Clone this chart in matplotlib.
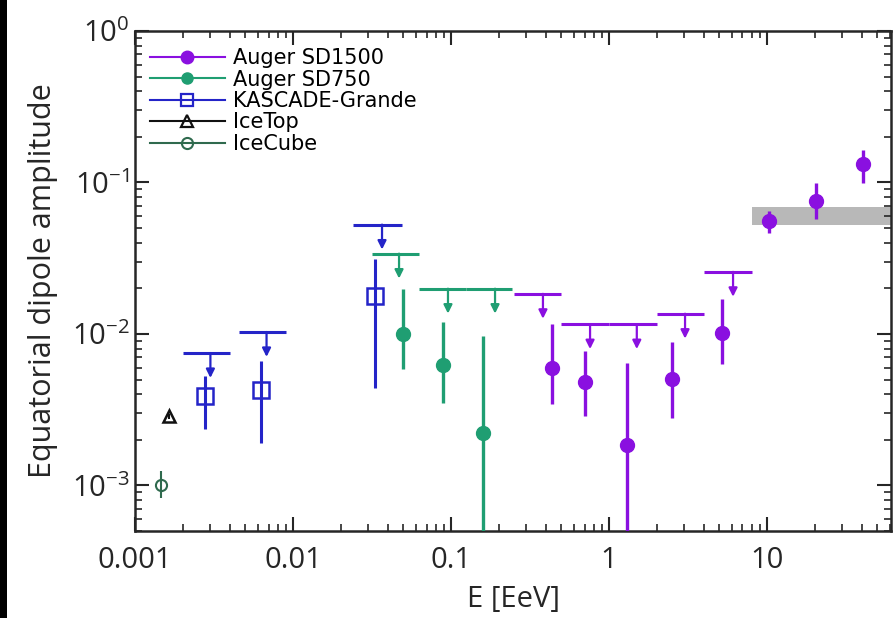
import matplotlib
matplotlib.use('Agg')
import matplotlib.pyplot as plt
from matplotlib.patches import Rectangle
from matplotlib.lines import Line2D
import numpy as np

# ---- data ----
icecube_e = [0.00145]
icecube_a = [1.0e-3]
icecube_lo = [8.2e-4]
icecube_hi = [1.24e-3]

icetop_e = [0.00163]
icetop_a = [2.86e-3]
icetop_lo = [2.75e-3]
icetop_hi = [2.97e-3]

kg_e = [0.00277, 0.00627, 0.033]
kg_a = [3.9e-3, 4.26e-3, 1.79e-2]
kg_lo = [2.35e-3, 1.9e-3, 4.39e-3]
kg_hi = [5.27e-3, 6.6e-3, 3.14e-2]
kg_ul = [7.48e-3, 1.03e-2, 5.27e-2]
kg_ul_emin = [0.002, 0.00455, 0.024]
kg_ul_emax = [0.004, 0.009, 0.049]
kg_ul_earrow = [0.003, 0.0068, 0.0366]

sd750_e = [0.0497, 0.0889, 0.16]
sd750_a = [1.0e-2, 6.23e-3, 2.21e-3]
sd750_lo = [5.86e-3, 3.49e-3, 1e-4]
sd750_hi = [1.99e-2, 1.2e-2, 9.7e-3]
sd750_ul = [3.39e-2, 1.99e-2, 1.99e-2]
sd750_ul_emin = [0.0316, 0.0626, 0.125]
sd750_ul_emax = [0.0626, 0.125, 0.245]
sd750_ul_earrow = [0.0469, 0.0957, 0.19]

sd1500_e = [0.435, 0.705, 1.30, 2.5, 5.19, 10.3, 20.4, 40.5]
sd1500_a = [5.96e-3, 4.81e-3, 1.84e-3, 5.03e-3, 1.02e-2, 0.056, 0.076, 0.1316]
sd1500_lo = [3.44e-3, 2.86e-3, 1e-4, 2.78e-3, 6.3e-3, 0.0467, 0.0578, 0.0985]
sd1500_hi = [1.16e-2, 7.7e-3, 6.4e-3, 8.85e-3, 1.7e-2, 0.065, 0.0985, 0.163]
sd1500_ul = [1.84e-2, 1.16e-2, 1.16e-2, 1.36e-2, 2.57e-2]
sd1500_ul_emin = [0.25, 0.5, 1.0, 2.0, 4.0]
sd1500_ul_emax = [0.5, 1.0, 2.0, 4.0, 8.0]
sd1500_ul_earrow = [0.382, 0.759, 1.5, 3.03, 6.1]

band_e = [8.0, 100.0]
band_lo = 0.052
band_hi = 0.069

xtick_vals = [0.001, 0.01, 0.1, 1, 10]
xtick_labels = ['0.001', '0.01', '0.1', '1', '10']
ytick_vals = [1e-3, 1e-2, 1e-1, 1e0]
ytick_labels = [r'$10^{-3}$', r'$10^{-2}$', r'$10^{-1}$', r'$10^{0}$']

C_PURPLE = '#8a10e0'
C_GREEN = '#1f9e72'
C_BLUE = '#2424c8'
C_BLACK = '#111111'
C_ICECUBE = '#2f6a4e'
C_TEXT = '#262626'

plt.rcParams['font.family'] = ['Open Sans', 'DejaVu Sans']
plt.rcParams['mathtext.fontset'] = 'custom'
plt.rcParams['mathtext.rm'] = 'Open Sans'
plt.rcParams['mathtext.it'] = 'Open Sans'

fig = plt.figure(figsize=(8.93, 6.18), dpi=100, facecolor='white')
ax = fig.add_axes([0.1512, 0.1408, 0.8466, 0.8090])
ax.set_facecolor('white')
# black strip along the left edge of the picture
fig.patches.append(Rectangle((0, 0), 0.008, 1, transform=fig.transFigure,
                             facecolor='black', edgecolor='none', zorder=10))

ARROW_F = 1.46  # arrow length factor (log scale)


def errbars(x, y, lo, hi, **kw):
    y = np.array(y)
    yerr = [y - np.array(lo), np.array(hi) - y]
    return ax.errorbar(x, y, yerr=yerr, capsize=0, **kw)


def upper_limits(emin, emax, ul, earrow, color):
    ax.hlines(ul, emin, emax, color=color, lw=2.2, zorder=3)
    for xa, u in zip(earrow, ul):
        ax.annotate('', xy=(xa, u / ARROW_F), xytext=(xa, u),
                    arrowprops=dict(arrowstyle='-|>,head_width=0.25,head_length=0.5',
                                    color=color, lw=1.6, shrinkA=0, shrinkB=0),
                    zorder=3)


ax.fill_between(band_e, band_lo, band_hi, color='#b8b8b8', lw=0, zorder=1)

errbars(icecube_e, icecube_a, icecube_lo, icecube_hi, fmt='o', ms=8, mfc='none',
        mec=C_ICECUBE, mew=1.5, color=C_ICECUBE, elinewidth=1.5, zorder=4)
errbars(icetop_e, icetop_a, icetop_lo, icetop_hi, fmt='^', ms=8, mfc='none',
        mec=C_BLACK, mew=1.8, color=C_BLACK, elinewidth=1.5, zorder=4)

errbars(kg_e, kg_a, kg_lo, kg_hi, fmt='s', ms=11, mfc='none', mec=C_BLUE, mew=1.8,
        color=C_BLUE, elinewidth=2.2, zorder=4)
upper_limits(kg_ul_emin, kg_ul_emax, kg_ul, kg_ul_earrow, C_BLUE)

errbars(sd750_e, sd750_a, sd750_lo, sd750_hi, fmt='o', ms=10, color=C_GREEN,
        elinewidth=2.4, zorder=4)
upper_limits(sd750_ul_emin, sd750_ul_emax, sd750_ul, sd750_ul_earrow, C_GREEN)

errbars(sd1500_e, sd1500_a, sd1500_lo, sd1500_hi, fmt='o', ms=10, color=C_PURPLE,
        elinewidth=2.4, zorder=4)
upper_limits(sd1500_ul_emin, sd1500_ul_emax, sd1500_ul, sd1500_ul_earrow, C_PURPLE)

ax.set_xscale('log')
ax.set_yscale('log')
ax.set_xlim(0.001, 61)
ax.set_ylim(5e-4, 1.0)

ax.set_xticks(xtick_vals)
ax.set_xticklabels(xtick_labels)
ax.set_yticks(ytick_vals)
ax.set_yticklabels(ytick_labels)
ax.tick_params(which='both', direction='in', top=True, right=True,
               colors=C_TEXT, labelsize=21)
ax.tick_params(which='major', length=10, width=1.5, pad=11)
ax.tick_params(axis='y', which='major', pad=4)
ax.tick_params(which='minor', length=5, width=1.2)
for sp in ax.spines.values():
    sp.set_linewidth(1.8)
    sp.set_color(C_TEXT)

ax.set_xlabel('E [EeV]', fontsize=21, color=C_TEXT, labelpad=7)
ax.set_ylabel('Equatorial dipole amplitude', fontsize=22, color=C_TEXT, labelpad=10)

handles = [
    Line2D([], [], color=C_PURPLE, marker='o', ms=9, lw=1.5),
    Line2D([], [], color=C_GREEN, marker='o', ms=8, lw=1.5),
    Line2D([], [], color=C_BLUE, marker='s', ms=9, mfc='none', mew=1.6, lw=1.5),
    Line2D([], [], color=C_BLACK, marker='^', ms=9, mfc='none', mew=1.6, lw=1.5),
    Line2D([], [], color=C_ICECUBE, marker='o', ms=8, mfc='none', mew=1.5, lw=1.5),
]
labels = ['Auger SD1500', 'Auger SD750', 'KASCADE-Grande', 'IceTop', 'IceCube']
ax.legend(handles, labels, loc='upper left', frameon=False,
          prop={'family': 'DejaVu Sans', 'size': 15},
          handlelength=3.6, handletextpad=0.4, labelspacing=0.07,
          borderaxespad=0.3, bbox_to_anchor=(0.0, 0.995))

fig.savefig('out.png', dpi=100, facecolor='white')
